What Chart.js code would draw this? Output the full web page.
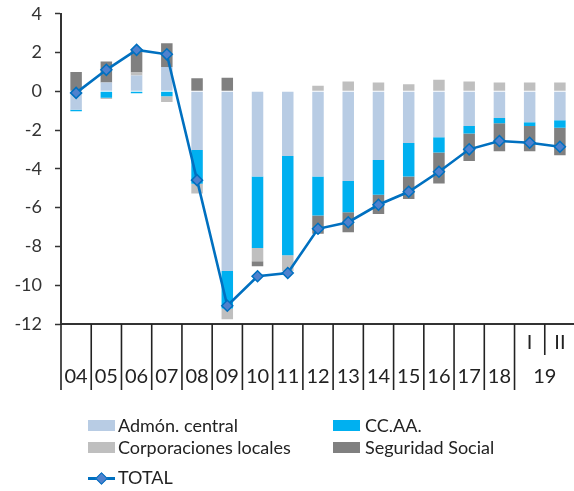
<!DOCTYPE html>
<html>
<head>
<meta charset="utf-8">
<script src="https://cdn.jsdelivr.net/npm/chart.js@4.4.1/dist/chart.umd.min.js"></script>
<style>
  html, body { margin: 0; padding: 0; background: #fff; overflow: hidden; width: 574px; height: 491px; }
  #wrap { position: relative; width: 582px; height: 491px; overflow: hidden; }
  canvas { position: absolute; left: 0; top: -10px; }
  .lg { position: absolute; font-family: Lato, "Open Sans", sans-serif; font-size: 18px; color: #222; line-height: 20px; white-space: nowrap; }
  .sw { position: absolute; }
</style>
</head>
<body>
<div id="wrap">
  <canvas id="c" width="582" height="501"></canvas>
  <div id="legend"></div>
</div>
<script>
// ---- data ----
const years    = ['04','05','06','07','08','09','10','11','12','13','14','15','16','17','18','19','19'];
const quarters = ['','','','','','','','','','','','','','','','I','II'];
const seriesNames = ['Admón. central', 'CC.AA.', 'Corporaciones locales', 'Seguridad Social', 'TOTAL'];
const admonCentral  = [-0.95, 0.46, 0.82, 1.25, -3.03, -9.27, -4.39, -3.33, -4.39, -4.62, -3.54, -2.67, -2.37, -1.79, -1.37, -1.59, -1.49];
const ccaa          = [-0.08, -0.33, -0.10, -0.25, -1.74, -1.93, -3.69, -5.13, -2.01, -1.62, -1.79, -1.72, -0.79, -0.38, -0.27, -0.20, -0.39];
const corpLocales   = [0.00, -0.07, 0.15, -0.30, -0.50, -0.56, -0.68, -0.80, 0.29, 0.51, 0.46, 0.37, 0.60, 0.51, 0.46, 0.46, 0.46];
const seguridadSoc  = [1.00, 1.08, 1.20, 1.23, 0.67, 0.70, -0.26, 0.00, -0.94, -1.03, -1.00, -1.16, -1.59, -1.42, -1.45, -1.30, -1.42];
const total         = [-0.08, 1.11, 2.14, 1.91, -4.58, -11.06, -9.54, -9.37, -7.09, -6.75, -5.85, -5.18, -4.15, -2.99, -2.56, -2.65, -2.86];
const yTicks = [4, 2, 0, -2, -4, -6, -8, -10, -12];

const colors = ['#B8CCE4', '#00B0F0', '#BFBFBF', '#808080', '#0070C0'];
const labels = years.map((y, i) => quarters[i] ? y + ' ' + quarters[i] : y);

// ---- x axis labelling plugin (two-level categories) ----
const xAxisLabels = {
  id: 'xAxisLabels',
  afterDraw(chart) {
    const xs = chart.scales.x;
    const ctx = chart.ctx;
    const area = chart.chartArea;
    const n = years.length;
    const half = (xs.getPixelForValue(1) - xs.getPixelForValue(0)) / 2;
    ctx.save();
    ctx.strokeStyle = '#222';
    ctx.lineWidth = 1.6;
    for (let i = 0; i <= n; i++) {
      const bx = i < n ? xs.getPixelForValue(i) - half : xs.getPixelForValue(n - 1) + half;
      const shortLine = i > 0 && i < n && years[i] === years[i - 1];
      ctx.beginPath();
      ctx.moveTo(bx, area.bottom);
      ctx.lineTo(bx, area.bottom + (shortLine ? 31 : 66));
      ctx.stroke();
    }
    ctx.fillStyle = '#222';
    ctx.textAlign = 'center';
    ctx.textBaseline = 'middle';
    ctx.font = '20px Lato, "Open Sans", sans-serif';
    let i = 0;
    while (i < n) {
      let j = i;
      while (j + 1 < n && years[j + 1] === years[i]) j++;
      const cx = (xs.getPixelForValue(i) + xs.getPixelForValue(j)) / 2;
      ctx.fillText(years[i], cx, area.bottom + 53);
      i = j + 1;
    }
    for (let k = 0; k < n; k++) {
      if (quarters[k]) ctx.fillText(quarters[k], xs.getPixelForValue(k), area.bottom + 19);
    }
    ctx.restore();
  }
};

const barSeries = [admonCentral, ccaa, corpLocales, seguridadSoc];
const datasets = barSeries.map((d, k) => ({
  type: 'bar',
  label: seriesNames[k],
  data: d,
  backgroundColor: colors[k],
  borderWidth: 0,
  stack: 'bars',
  order: 2,
  barPercentage: 0.38,
  categoryPercentage: 1
}));
datasets.push({
  type: 'line',
  label: seriesNames[4],
  data: total,
  borderColor: colors[4],
  backgroundColor: '#4F81CD',
  borderWidth: 2.6,
  pointStyle: 'rectRot',
  pointRadius: 5.5,
  pointBorderColor: '#0070C0',
  pointBorderWidth: 1.5,
  pointBackgroundColor: '#4F81CD',
  stack: 'total',
  order: 1,
  tension: 0
});

new Chart(document.getElementById('c'), {
  data: { labels, datasets },
  options: {
    responsive: false,
    animation: false,
    layout: { padding: { top: 3, right: 1, left: 0, bottom: 0 } },
    plugins: { legend: { display: false }, tooltip: { enabled: false } },
    scales: {
      x: {
        type: 'category',
        stacked: true,
        offset: true,
        grid: { display: false },
        ticks: { display: false },
        border: { display: true, color: '#333', width: 2 },
        afterFit(scale) { scale.height = 167; }
      },
      y: {
        stacked: true,
        min: -12,
        max: 4,
        afterBuildTicks(scale) { scale.ticks = yTicks.map(v => ({ value: v })); },
        ticks: {
          color: '#333',
          padding: 13,
          font: { family: 'Lato, "Open Sans", sans-serif', size: 18 }
        },
        grid: { drawOnChartArea: false, drawTicks: true, tickLength: 6, color: '#333', tickWidth: 1.5 },
        border: { display: true, color: '#333', width: 2 },
        afterFit(scale) { scale.width = 61; }
      }
    }
  },
  plugins: [xAxisLabels]
});

// ---- HTML legend, two columns ----
const legend = document.getElementById('legend');
const legendPos = [
  { sx: 88, sy: 420, tx: 118, ty: 415 },
  { sx: 333, sy: 420, tx: 365, ty: 415 },
  { sx: 88, sy: 442, tx: 118, ty: 437 },
  { sx: 333, sy: 442, tx: 365, ty: 437 },
  { sx: 88, sy: 478, tx: 118, ty: 467 }
];
seriesNames.forEach((name, k) => {
  const p = legendPos[k];
  if (k < 4) {
    const sw = document.createElement('div');
    sw.className = 'sw';
    sw.style.cssText = `left:${p.sx}px;top:${p.sy}px;width:27px;height:11px;background:${colors[k]};`;
    legend.appendChild(sw);
  } else {
    const ln = document.createElement('div');
    ln.className = 'sw';
    ln.style.cssText = `left:${p.sx}px;top:${p.sy - 1}px;width:27px;height:3px;background:${colors[4]};`;
    legend.appendChild(ln);
    const dm = document.createElement('div');
    dm.className = 'sw';
    dm.style.cssText = `left:${p.sx + 9}px;top:${p.sy - 4}px;width:7px;height:7px;background:#4F81CD;border:1px solid #0070C0;transform:rotate(45deg);`;
    legend.appendChild(dm);
  }
  const t = document.createElement('div');
  t.className = 'lg';
  t.style.left = p.tx + 'px';
  t.style.top = p.ty + 'px';
  t.textContent = name;
  legend.appendChild(t);
});
</script>
</body>
</html>
